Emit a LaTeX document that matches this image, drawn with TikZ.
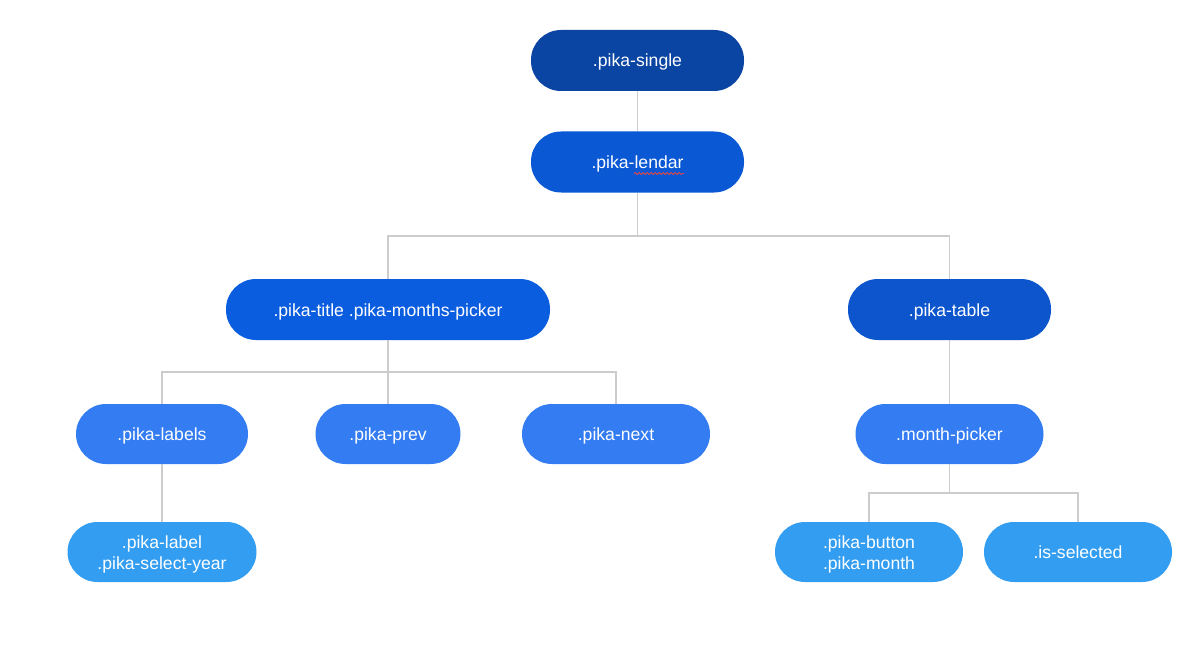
\documentclass[tikz,border=0pt]{standalone}
\usepackage{fontspec}
\setmainfont{Liberation Sans}
\usetikzlibrary{decorations.pathmorphing}
\definecolor{cA}{HTML}{0B45A3}
\definecolor{cB}{HTML}{0B58D4}
\definecolor{cC}{HTML}{0B5DDF}
\definecolor{cD}{HTML}{0C55CC}
\definecolor{cE}{HTML}{337CF2}
\definecolor{cF}{HTML}{339DF1}
\definecolor{linec}{HTML}{CCCCCC}
\definecolor{squig}{HTML}{E04848}
\newcommand{\topfill}{\rule{0pt}{17pt}}
\tikzset{
  pill/.style={rectangle, rounded corners=30pt, minimum height=61pt, inner sep=0pt,
    text=white, font=\fontsize{17.6}{21}\selectfont, align=center},
  one/.style={pill, text height=13pt, text depth=0pt},
  conn/.style={draw=linec, line width=1.5pt},
}
\begin{document}
\begin{tikzpicture}[x=1pt,y=-1pt]
\useasboundingbox (0,0) rectangle (1186,666);
\node[one, fill=cA, minimum width=213pt] (single) at (637.5,60.5) {.pika-single};
\node[one, fill=cB, minimum width=213pt] (lendar) at (637.5,162) {.pika-lendar};
\node[one, fill=cC, minimum width=324pt] (title) at (388,309.5) {.pika-title .pika-months-picker};
\node[one, fill=cD, minimum width=203pt] (table) at (949.5,309.5) {.pika-table};
\node[one, fill=cE, minimum width=172pt, minimum height=60pt] (labels) at (162,434) {.pika-labels};
\node[one, fill=cE, minimum width=145pt, minimum height=60pt] (prev) at (388,434) {.pika-prev};
\node[one, fill=cE, minimum width=188pt, minimum height=60pt] (next) at (616,434) {.pika-next};
\node[one, fill=cE, minimum width=188pt, minimum height=60pt] (mpick) at (949.5,434) {.month-picker};
\node[pill, fill=cF, minimum width=189pt, minimum height=60pt] (sely) at (162,552) {\topfill.pika-label\\.pika-select-year};
\node[pill, fill=cF, minimum width=188pt, minimum height=60pt] (btn) at (869,552) {\topfill.pika-button\\.pika-month};
\node[one, fill=cF, minimum width=188pt, minimum height=60pt] (issel) at (1078,552) {.is-selected};
% wavy underline under "lendar"
\draw[squig, line width=0.8pt, decorate, decoration={snake, amplitude=1pt, segment length=4pt}] (634,173.5) -- (684,173.5);
% connectors
\coordinate (b1) at (637.5,236);
\coordinate (b2) at (388,372);
\coordinate (b3) at (949.5,493);
\draw[conn] (single) -- (lendar);
\draw[conn] (lendar.south) -- (b1);
\draw[conn] (b1) -| (title.north);
\draw[conn] (b1) -| (table.north);
\draw[conn] (title.south) -- (b2);
\draw[conn] (b2) -| (labels.north);
\draw[conn] (b2) -- (prev.north);
\draw[conn] (b2) -| (next.north);
\draw[conn] (labels) -- (sely);
\draw[conn] (table) -- (mpick);
\draw[conn] (mpick.south) -- (b3);
\draw[conn] (b3) -| (btn.north);
\draw[conn] (b3) -| (issel.north);
\end{tikzpicture}
\end{document}
